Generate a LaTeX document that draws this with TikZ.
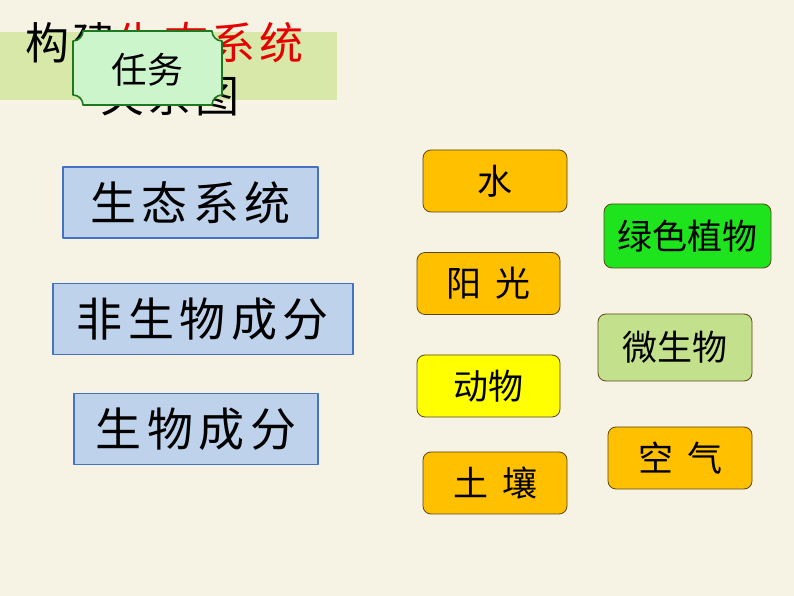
\documentclass[tikz,border=0pt]{standalone}
\usepackage{fontspec}
\newfontfamily\cjk{Noto Sans CJK SC}
\newfontfamily\cjkwide[LetterSpace=12]{Noto Sans CJK SC}
\newfontfamily\cjktitle[LetterSpace=8]{Noto Sans CJK SC}
\usepackage{xcolor}
\usetikzlibrary{positioning}

\definecolor{paper}{RGB}{246,243,228}
\definecolor{band}{RGB}{215,232,168}
\definecolor{titlered}{RGB}{230,0,0}
\definecolor{plaquefill}{RGB}{204,245,204}
\definecolor{plaqueline}{RGB}{30,120,30}
\definecolor{partfill}{RGB}{190,210,235}
\definecolor{partline}{RGB}{70,114,196}
\definecolor{itemline}{RGB}{90,70,20}
\definecolor{orange}{RGB}{255,192,0}
\definecolor{yellow}{RGB}{255,255,0}
\definecolor{leafgreen}{RGB}{30,228,30}
\definecolor{palegreen}{RGB}{195,225,140}

\begin{document}
\begin{tikzpicture}[x=1pt, y=1pt, line join=round]
				\tikzset{
					part/.style={draw=partline, fill=partfill, line width=1.6pt,
						minimum height=71pt, inner sep=0pt, font=\cjkwide\fontsize{46}{46}\selectfont},
					item/.style={draw=itemline, rounded corners=8pt, line width=0.8pt,
						minimum width=144pt, minimum height=62pt, inner sep=0pt,
						font=\cjk\fontsize{35}{35}\selectfont},
				}
				% ---- nền + dải tiêu đề ----
				\fill[paper] (0,0) rectangle (794,596);
				\useasboundingbox (0,0) rectangle (794,596);
				\fill[band] (0,564) rectangle (337,496);
				
				% ---- tiêu đề ----
				\node[anchor=west, inner sep=0pt, font=\cjktitle\fontsize{44}{44}\selectfont] (title1) at (25,553)
					{构建\textcolor{titlered}{生态系统}};
				\node[anchor=west, inner sep=0pt, font=\cjktitle\fontsize{44}{44}\selectfont] (title2) at (100,500)
					{关系图};
				
				% ---- nhãn "任务" ----
				\draw[fill=plaquefill, draw=plaqueline, line width=1.6pt]
					(83,565) -- (212,565) arc[start angle=180, end angle=270, radius=10]
					-- (222,501) arc[start angle=90, end angle=180, radius=10]
					-- (83,491) arc[start angle=0, end angle=90, radius=10]
					-- (73,555) arc[start angle=270, end angle=360, radius=10] -- cycle;
				\node[inner sep=0pt, font=\cjk\fontsize{36}{36}\selectfont] (task) at (147.5,526) {任务};
				
				% ---- cột trái ----
				\node[part, minimum width=255pt] (system)  at (190.5,393.5) {生态系统};
				\node[part, minimum width=300pt] (abiotic) at (203,277)     {非生物成分};
				\node[part, minimum width=244pt] (biotic)  at (196,167)     {生物成分};
				
				% ---- các thẻ bên phải ----
				\node[item, fill=orange] (water)  at (495,415)   {水};
				\node[item, fill=orange, minimum width=143pt] (sun) at (488.5,312.5) {阳\hspace{14pt}光};
				\node[item, fill=yellow, minimum width=143pt] (animal) at (488.5,210) {动物};
				\node[item, fill=orange] (soil)   at (495,113)   {土\hspace{14pt}壤};
				\node[item, fill=leafgreen, minimum width=167pt, minimum height=64pt] (plant) at (687.5,360) {绿色植物};
				\node[item, fill=palegreen, minimum width=154pt, minimum height=67pt] (microbe) at (675,248.5) {微生物};
				\node[item, fill=orange] (air)    at (680,138)   {空\hspace{14pt}气};
			\end{tikzpicture}
\end{document}
